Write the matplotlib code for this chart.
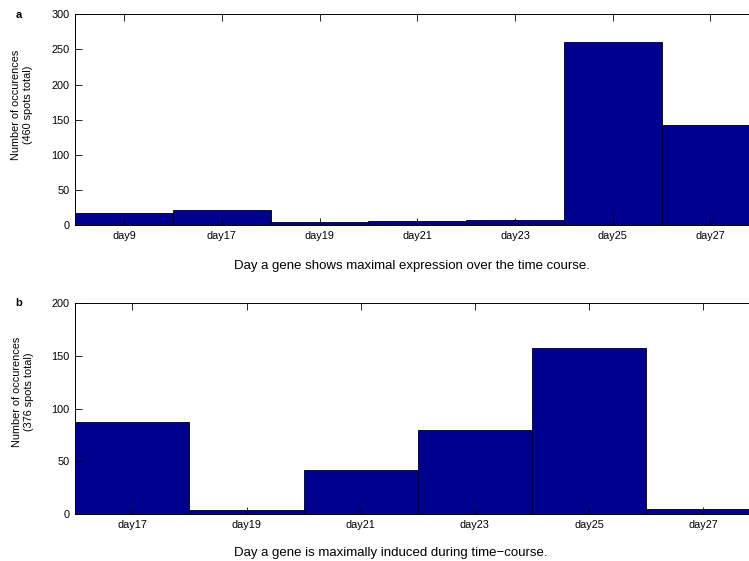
import matplotlib
matplotlib.use("Agg")
import matplotlib.pyplot as plt
import numpy as np

plt.rcParams['font.family'] = ['Liberation Sans', 'DejaVu Sans']

# data
days_a = ["day9", "day17", "day19", "day21", "day23", "day25", "day27"]
counts_a = [17, 22, 4, 6, 8, 261, 142]

days_b = ["day17", "day19", "day21", "day23", "day25", "day27"]
counts_b = [87, 4, 42, 80, 158, 5]

bar_color = "#00008f"
W, H = 749, 561

fig = plt.figure(figsize=(W / 100, H / 100), dpi=100)

def px(x, y):
    # pixel coords (from top-left) to figure fraction
    return x / W, 1 - y / H

def draw_panel(rect, days, counts, ymax, yticks):
    ax = fig.add_axes(rect)
    x = np.arange(1, len(days) + 1)
    ax.bar(x, counts, width=1.0, color=bar_color, edgecolor="black", linewidth=0.6)
    ax.set_xlim(0.5, len(days) + 0.5)
    ax.set_ylim(0, ymax)
    ax.set_xticks(x)
    ax.set_xticklabels(days)
    ax.set_yticks(yticks)
    ax.tick_params(direction="in", top=True, right=True, length=5, width=0.6,
                   labelsize=7.8, pad=4)
    for s in ax.spines.values():
        s.set_linewidth(0.7)
    return ax

# panel a
l, top = px(75.3, 14.3)
_, bot = px(0, 225.3)
draw_panel([l, bot, 684 / W, top - bot], days_a, counts_a, 300, range(0, 301, 50))

# panel b
_, top = px(0, 303.3)
_, bot = px(0, 514)
draw_panel([l, bot, 685 / W, top - bot], days_b, counts_b, 200, range(0, 201, 50))

# labels
fig.text(*px(19, 15.5), "a", fontsize=8, fontweight="bold", ha="center", va="center")
fig.text(*px(19, 303), "b", fontsize=8, fontweight="bold", ha="center", va="center")

fig.text(*px(22, 105), "Number of occurences\n(460 spots total)", fontsize=7.8,
         rotation=90, ha="center", va="center", multialignment="center")
fig.text(*px(23, 391.5), "Number of occurences\n(376 spots total)", fontsize=7.8,
         rotation=90, ha="center", va="center", multialignment="center")

fig.text(*px(412, 266), "Day a gene shows maximal expression over the time course.",
         fontsize=9.5, ha="center", va="center")
fig.text(*px(391, 553), "Day a gene is maximally induced during time\u2212course.",
         fontsize=9.5, ha="center", va="center")

fig.savefig("out.png", dpi=100)
